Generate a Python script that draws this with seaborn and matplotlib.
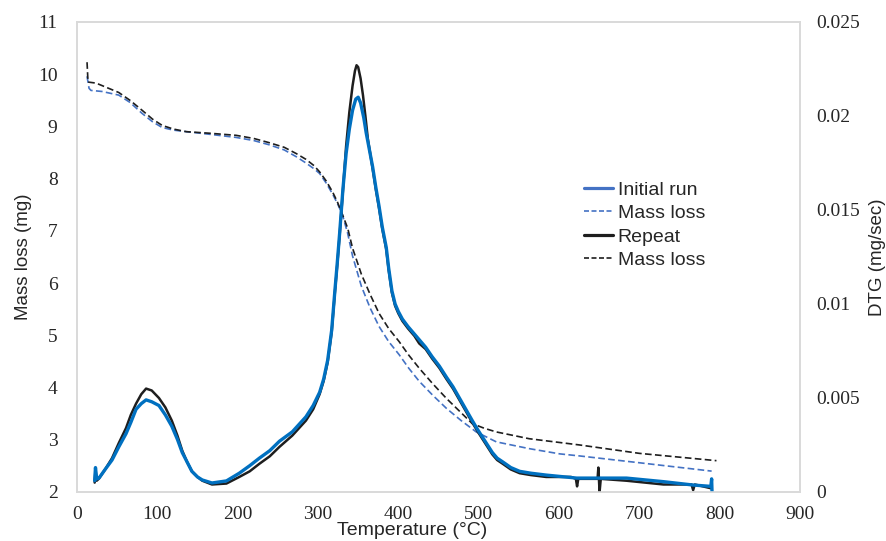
import numpy as np
import pandas as pd
import matplotlib
matplotlib.use('Agg')
import matplotlib.pyplot as plt
from matplotlib.lines import Line2D
import seaborn as sns

# Mass loss curves (left axis, mg)
mass_initial_t = [12.5, 15, 17.4, 31, 52, 66, 81, 94, 106, 120, 136, 165, 198, 220, 239, 258, 273,
                  285, 295, 302, 310, 318, 324, 330, 337, 343, 354, 365, 376, 388, 401, 413, 426,
                  443, 460, 478, 497, 522, 563, 601, 626, 700, 790]
mass_initial = [9.96, 9.73, 9.69, 9.67, 9.60, 9.46, 9.25, 9.09, 8.98, 8.93, 8.90, 8.85, 8.79, 8.73,
                8.65, 8.55, 8.42, 8.30, 8.19, 8.10, 7.92, 7.71, 7.53, 7.33, 6.95, 6.52, 5.94, 5.52,
                5.17, 4.88, 4.63, 4.37, 4.12, 3.85, 3.60, 3.37, 3.15, 2.96, 2.83, 2.73, 2.69, 2.56, 2.40]

mass_repeat_t = [12.5, 13.7, 23.7, 52, 66, 81, 94, 106, 120, 136, 165, 198, 220, 239, 258, 273,
                 285, 295, 302, 310, 318, 324, 330, 337, 343, 354, 365, 376, 388, 401, 413, 426,
                 443, 460, 476, 492, 507, 522, 563, 626, 700, 796]
mass_repeat = [10.23, 9.85, 9.83, 9.65, 9.50, 9.31, 9.14, 9.02, 8.95, 8.90, 8.87, 8.83, 8.77, 8.69,
               8.60, 8.48, 8.37, 8.25, 8.13, 7.96, 7.75, 7.56, 7.33, 7.05, 6.67, 6.17, 5.78, 5.42,
               5.13, 4.88, 4.62, 4.37, 4.07, 3.79, 3.55, 3.31, 3.22, 3.15, 3.02, 2.90, 2.74, 2.60]

# DTG curves (right axis, mg/sec)
dtg_initial_t = [22, 23, 24.5, 27.4, 35, 43.6, 52, 61, 67, 73.5, 80, 86, 93, 102, 110, 118, 125,
                 131, 137, 143, 150, 156, 168, 186, 202, 215, 227, 240, 252, 268, 285, 294, 302,
                 307, 312, 317, 321, 324, 327, 331, 335, 339, 343, 347, 350, 353, 357, 360, 364,
                 368, 372, 376, 380, 385, 388, 392, 396, 400, 405, 412, 420, 426, 434, 442, 451,
                 460, 468, 476, 484, 492, 499, 505, 511, 517, 523, 530, 540, 551, 565, 584, 622,
                 684, 730, 767, 789, 790, 790.5]
dtg_initial = [0.0006, 0.0013, 0.0007, 0.00074, 0.0012, 0.0017, 0.0024, 0.0031, 0.0037, 0.0044,
               0.0047, 0.0049, 0.0048, 0.0046, 0.0041, 0.0035, 0.0028, 0.0021, 0.0016, 0.0011,
               0.0008, 0.00064, 0.00048, 0.00059, 0.0010, 0.0014, 0.0018, 0.0022, 0.0027, 0.0032,
               0.0040, 0.0046, 0.0053, 0.0060, 0.0070, 0.0086, 0.0107, 0.0122, 0.0138, 0.0161,
               0.0180, 0.0193, 0.0203, 0.0209, 0.0210, 0.0207, 0.0199, 0.0191, 0.0182, 0.0173,
               0.0162, 0.0152, 0.0141, 0.0130, 0.0119, 0.0107, 0.0100, 0.0096, 0.0092, 0.0088,
               0.0084, 0.0081, 0.0077, 0.0072, 0.0067, 0.0061, 0.0056, 0.0050, 0.0044, 0.0038,
               0.0033, 0.0029, 0.0025, 0.0021, 0.0018, 0.0016, 0.0013, 0.0011, 0.0010, 0.0009,
               0.00074, 0.00074, 0.00055, 0.00037, 0.0003, 0.0007, 0.0000]

dtg_repeat_t = [22, 23, 24.5, 27, 35, 43.6, 52, 61, 67, 73.5, 80, 86, 93, 102, 110, 118, 125, 131,
                137, 143, 150, 156, 168, 186, 202, 215, 227, 240, 252, 268, 285, 294, 302, 307, 312,
                317, 321, 324, 327, 331, 335, 339, 343, 346, 348, 350, 353, 356, 359, 362, 365, 368,
                372, 376, 380, 385, 388, 392, 396, 400, 405, 412, 420, 426, 434, 442, 451, 460, 468,
                476, 484, 492, 499, 505, 511, 517, 523, 530, 540, 551, 565, 584, 615, 621, 622.5,
                624, 640, 648, 649, 650.5, 652, 684, 730, 765, 767, 769, 789]
dtg_repeat = [0.0005, 0.0012, 0.0006, 0.0007, 0.0012, 0.0018, 0.0026, 0.0034, 0.0041, 0.0047,
              0.0052, 0.0055, 0.0054, 0.0050, 0.0045, 0.0038, 0.0030, 0.0022, 0.0016, 0.0011,
              0.0008, 0.0006, 0.0004, 0.00045, 0.0008, 0.0011, 0.0015, 0.0019, 0.0024, 0.0030,
              0.0038, 0.0044, 0.0052, 0.0059, 0.0069, 0.0085, 0.0106, 0.0121, 0.0137, 0.0160,
              0.0184, 0.0202, 0.0216, 0.0224, 0.0227, 0.0226, 0.0220, 0.0211, 0.0200, 0.0188,
              0.0180, 0.0172, 0.0161, 0.0151, 0.0140, 0.0129, 0.0118, 0.0106, 0.0099, 0.0095,
              0.0091, 0.0087, 0.0083, 0.0079, 0.0076, 0.0071, 0.0066, 0.0060, 0.0055, 0.0049,
              0.0043, 0.0037, 0.0032, 0.0028, 0.0024, 0.0020, 0.0017, 0.0015, 0.0012, 0.0010,
              0.0009, 0.0008, 0.0008, 0.0007, 0.0003, 0.0007, 0.0007, 0.0007, 0.0013, 0.0000,
              0.0007, 0.0006, 0.0004, 0.0004, 0.0001, 0.0004, 0.0002]

x_ticks = list(range(0, 1000, 100))
mass_ticks = list(range(2, 12))
dtg_ticks = [0, 0.005, 0.01, 0.015, 0.02, 0.025]
dtg_tick_labels = ['0', '0.005', '0.01', '0.015', '0.02', '0.025']

BLUE = '#0070c0'
BLUE_DASH = '#4472c4'
BLACK = '#1e1e1e'
GRID = '#d9d9d9'
TEXT = '#262626'

sns.set_theme(style='white')
plt.rcParams['font.family'] = ['Liberation Sans', 'DejaVu Sans']

fig = plt.figure(figsize=(8.87, 5.41), dpi=100)
ax = fig.add_axes([77 / 887, 1 - 492 / 541, 723 / 887, 470 / 541])
ax2 = ax.twinx()

df_mi = pd.DataFrame({'T': mass_initial_t, 'm': mass_initial})
df_mr = pd.DataFrame({'T': mass_repeat_t, 'm': mass_repeat})
df_di = pd.DataFrame({'T': dtg_initial_t, 'd': dtg_initial})
df_dr = pd.DataFrame({'T': dtg_repeat_t, 'd': dtg_repeat})

sns.lineplot(data=df_mi, x='T', y='m', ax=ax, sort=False, estimator=None,
             color=BLUE_DASH, linewidth=1.2, linestyle=(0, (4, 2)))
sns.lineplot(data=df_mr, x='T', y='m', ax=ax, sort=False, estimator=None,
             color=BLACK, linewidth=1.2, linestyle=(0, (4, 2)))
sns.lineplot(data=df_dr, x='T', y='d', ax=ax2, sort=False, estimator=None,
             color=BLACK, linewidth=1.8)
sns.lineplot(data=df_di, x='T', y='d', ax=ax2, sort=False, estimator=None,
             color=BLUE, linewidth=2.4)

ax.set_xlim(0, 900)
ax.set_ylim(2, 11)
ax2.set_ylim(0, 0.025)
ax.set_xticks(x_ticks)
ax.set_yticks(mass_ticks)
ax2.set_yticks(dtg_ticks)
ax2.set_yticklabels(dtg_tick_labels)

serif = ['Liberation Serif', 'DejaVu Serif']
for lab in ax.get_xticklabels() + ax.get_yticklabels() + ax2.get_yticklabels():
    lab.set_family(serif)
    lab.set_fontsize(14)
    lab.set_color(TEXT)
ax.tick_params(axis='x', length=0, pad=10)
ax.tick_params(axis='y', length=0, pad=14)
ax2.tick_params(axis='y', length=0, pad=12)

for a in (ax, ax2):
    for s in a.spines.values():
        s.set_color(GRID)
        s.set_linewidth(1.2)
    a.grid(False)

ax.set_xlabel('Temperature (°C)', fontsize=14, color=TEXT)
ax.xaxis.set_label_coords(0.463, -0.064)
ax.set_ylabel('Mass loss (mg)', fontsize=13.5, color=TEXT)
ax.yaxis.set_label_coords(-0.062, 0.5)
ax2.set_ylabel('DTG (mg/sec)', fontsize=13.5, color=TEXT)
ax2.yaxis.set_label_coords(1.096, 0.5)

handles = [
    Line2D([], [], color=BLUE_DASH, linewidth=2.3),
    Line2D([], [], color=BLUE_DASH, linewidth=1.2, linestyle=(0, (3, 1.5))),
    Line2D([], [], color=BLACK, linewidth=2.3),
    Line2D([], [], color=BLACK, linewidth=1.2, linestyle=(0, (3, 1.5))),
]
labels = ['Initial run', 'Mass loss', 'Repeat', 'Mass loss']
ax2.legend(handles, labels, loc='upper left', bbox_to_anchor=(0.69, 0.678), frameon=False,
           fontsize=14, handlelength=1.5, handletextpad=0.25, labelspacing=0.3,
           borderaxespad=0, labelcolor=TEXT)

fig.savefig('out.png', dpi=100)
